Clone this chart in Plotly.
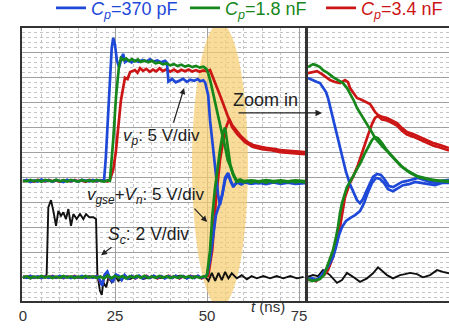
import plotly.graph_objects as go

# ---------------- data (t in ns, v in screen divisions; 0 = ground marker) ----------------
legend_names = ["<i>C<sub>p</sub></i>=370 pF", "<i>C<sub>p</sub></i>=1.8 nF", "<i>C<sub>p</sub></i>=3.4 nF"]

blue_vp_left = [(0,3.86),(1,3.90),(2,3.82),(3,3.88),(4,3.84),(5,3.92),(6,3.85),(7,3.89),(8,3.83),(9,3.90),(10,3.86),(11,3.82),
    (12,3.91),(13,3.85),(14,3.88),(15,3.83),(16,3.90),(17,3.86),(18,3.84),(19,3.90),(20,3.85),(21,3.88),(22.0,3.86),
    (22.5,4.8),(23.0,6.3),(23.6,7.9),(24.1,9.2),(24.5,9.6),(25.0,9.32),(25.5,8.7),(26.1,8.43),(26.6,8.7),(27.2,8.96),(27.7,8.63),
    (28.5,8.7),(29.5,8.62),(30.4,8.7),(31.5,8.64),(32.5,8.72),(33.5,8.66),(34.5,8.74),(35.5,8.65),(36.5,8.7),(37.5,8.62),(38.6,8.68),
    (39.1,8.6),(39.5,7.85),(40.5,7.95),(41.5,7.82),(42.7,7.9),(43.5,7.96),(44.5,7.84),(45.4,7.92),(46.5,7.88),(47.5,7.95),(48.1,7.86),
    (49.0,7.9),(49.5,7.8),(50.3,7.3),(50.8,6.3),(51.6,5.1),(52.4,3.9),(53.0,3.3),(53.5,2.9),(54.1,3.3),(54.9,4.0),(55.7,4.18),
    (56.5,3.85),(57.1,3.62),(58.2,3.84),(59.3,3.75),(60.3,3.83),(61.5,3.77),(62.5,3.82),(64,3.76),(65.5,3.83),(67,3.78),(68.5,3.84),
    (70,3.77),(71.5,3.82),(73,3.78),(74.5,3.83),(76.6,3.8)]

blue_vg_left = [(0,0.02),(1,-0.03),(2,0.04),(3,-0.02),(4,0.03),(5,-0.04),(6,0.02),(7,-0.03),(8,0.03),(9,-0.02),(10,0.04),(11,-0.03),
    (12,0.02),(13,-0.04),(14,0.03),(15,-0.02),(16,0.04),(17,-0.03),(18,0.02),(19,-0.02),(20,0.03),(20.8,-0.1),(21.5,-0.35),(22.2,0.1),
    (22.9,0.22),(23.6,-0.05),(24.4,-0.2),(25.2,0.1),(26,0.05),(26.8,-0.12),(27.6,0.08),(28.5,-0.06),(29.5,0.05),(30.5,-0.04),(31.5,0.06),
    (32.5,-0.05),(33.5,0.03),(34.5,-0.04),(35.5,0.05),(36.5,-0.03),(37.5,0.04),(38.5,-0.05),(39.5,0.03),(40.5,-0.04),(41.5,0.05),
    (42.5,-0.03),(43.5,0.04),(44.5,-0.05),(45.5,0.03),(46.5,-0.04),(47.5,0.05),(48.5,-0.03),(49.5,0.02),(50.0,0.1),(50.8,0.68),
    (51.6,1.69),(52.4,2.49),(53.3,2.89),(54.1,3.29),(54.9,3.9),(55.7,4.12),(56.5,3.8),(57.1,3.66),(58.2,3.8),(59.3,3.72),(60.3,3.8),
    (62,3.74),(64,3.79),(66,3.73),(68,3.8),(70,3.74),(72,3.79),(74,3.74),(76.6,3.77)]

green_vp_left = [(0,3.88),(1,3.84),(2,3.9),(3,3.85),(4,3.89),(5,3.83),(6,3.9),(7,3.86),(8,3.84),(9,3.91),(10,3.85),(11,3.89),
    (12,3.84),(13,3.9),(14,3.86),(15,3.83),(16,3.9),(17,3.85),(18,3.89),(19,3.84),(20,3.9),(21,3.86),(22,3.83),(23,3.89),(23.6,3.86),
    (24.5,5.5),(25.3,7.3),(26.1,8.5),(26.6,8.8),(27.3,8.71),(28.0,8.78),(28.8,8.68),(29.6,8.75),(30.4,8.66),(31.2,8.74),(32,8.64),
    (33,8.7),(34,8.62),(35,8.68),(36,8.58),(37,8.62),(38,8.54),(39,8.58),(40,8.5),(41,8.55),(42,8.47),(43,8.53),(44,8.45),(45,8.5),
    (46,8.43),(47,8.48),(48,8.41),(49,8.45),(49.8,8.36),(50.3,8.19),(51,7.8),(51.6,7.39),(52.5,6.7),(53.5,6.02),(54.3,5.6),(54.9,5.22),
    (55.6,4.7),(56.3,4.45),(57.1,4.1),(58,3.82),(59,3.86),(60,3.8),(61,3.85),(62,3.79),(63,3.86),(64,3.8),(65,3.85),(66,3.79),(67,3.86),
    (68,3.8),(69,3.84),(70,3.79),(71,3.85),(72,3.8),(73,3.86),(74,3.8),(75,3.84),(76.6,3.8)]

green_vg_left = [(0,-0.02),(1,0.03),(2,-0.04),(3,0.02),(4,-0.03),(5,0.04),(6,-0.02),(7,0.03),(8,-0.04),(9,0.02),(10,-0.03),(11,0.04),
    (12,-0.02),(13,0.03),(14,-0.04),(15,0.02),(16,-0.03),(17,0.04),(18,-0.02),(19,0.03),(20,-0.04),(21,0.02),(22,-0.05),(23,0.06),
    (24,-0.04),(25,0.05),(26,-0.03),(27,0.04),(28,-0.05),(29,0.03),(30,-0.02),(31,0.04),(32,-0.03),(33,0.05),(34,-0.04),(35,0.02),
    (36,-0.03),(37,0.04),(38,-0.02),(39,0.03),(40,-0.04),(41,0.02),(42,-0.03),(43,0.04),(44,-0.02),(45,0.03),(46,-0.04),(47,0.02),
    (48,-0.03),(49,0.03),(49.6,0.0),(50.0,0.1),(50.8,1.08),(51.4,2.41),(52.1,3.5),(52.7,4.3),(53.5,5.1),(54.3,5.8),(54.9,6.0),
    (55.6,5.25),(56.3,4.52),(57.1,4.14),(58,3.88),(59,3.92),(60,3.85),(62,3.88),(64,3.84),(66,3.89),(68,3.85),(70,3.88),(72,3.84),
    (74,3.88),(76.6,3.85)]

red_vp_left = [(0,3.84),(1,3.89),(2,3.86),(3,3.83),(4,3.9),(5,3.86),(6,3.84),(7,3.9),(8,3.85),(9,3.88),(10,3.83),(11,3.89),
    (12,3.86),(13,3.84),(14,3.9),(15,3.85),(16,3.88),(17,3.83),(18,3.9),(19,3.86),(20,3.84),(21,3.89),(22,3.86),(23,3.84),(23.6,3.9),
    (24.5,4.3),(25.2,5.0),(25.8,5.9),(26.6,7.1),(27.7,8.0),(28.4,7.95),(29.1,8.23),(30.4,8.31),(31.1,8.2),(31.8,8.39),(32.6,8.28),
    (33.5,8.36),(34.4,8.24),(35.3,8.33),(36.2,8.26),(37.1,8.38),(38,8.27),(39,8.34),(40,8.25),(41,8.33),(42,8.24),(43,8.32),(44,8.26),
    (45,8.33),(46,8.25),(47,8.31),(48,8.24),(49,8.3),(50,8.26),(50.8,8.31),(51.9,7.9),(52.7,7.63),(53.5,7.3),(54.3,6.99),(55.0,6.7),
    (55.7,6.43),(56.8,6.1),(58.2,5.82),(59.2,5.65),(60.3,5.5),(61.4,5.38),(62.5,5.3),(63.7,5.25),(64.9,5.22),(66,5.19),(67.1,5.18),
    (68.5,5.14),(69.8,5.1),(71.2,5.08),(72.6,5.06),(74.5,5.04),(76.6,5.02)]

red_vg_left = [(0,0.03),(1,-0.02),(2,0.04),(3,-0.03),(4,0.02),(5,-0.04),(6,0.03),(7,-0.02),(8,0.04),(9,-0.03),(10,0.02),(11,-0.04),
    (12,0.03),(13,-0.02),(14,0.04),(15,-0.03),(16,0.02),(17,-0.04),(18,0.03),(19,-0.02),(20,0.04),(20.8,-0.12),(21.5,-0.3),(22.2,0.08),
    (22.9,0.15),(23.6,-0.1),(24.4,-0.15),(25.2,0.08),(26,0.02),(26.8,-0.08),(27.6,0.05),(28.5,-0.04),(29.5,0.04),(30.5,-0.05),
    (31.5,0.03),(32.5,-0.04),(33.5,0.05),(34.5,-0.03),(35.5,0.04),(36.5,-0.05),(37.5,0.03),(38.5,-0.04),(39.5,0.05),(40.5,-0.03),
    (41.5,0.04),(42.5,-0.05),(43.5,0.03),(44.5,-0.04),(45.5,0.05),(46.5,-0.03),(47.5,0.04),(48.5,-0.05),(49.5,0.03),(50.3,0.05),
    (51.4,1.08),(52.4,3.09),(53.5,4.7),(54.9,5.9),(56.0,6.35),(56.8,6.02),(58.2,5.74),(60.3,5.42),(62.5,5.22),(64.9,5.14),(67.1,5.1),
    (69.8,5.02),(72.6,4.98),(76.6,4.94)]

black_sc_left = [(0,-0.04),(1,0.03),(2,-0.06),(3,0.02),(4,-0.03),(5,0.04),(6,-0.02),(6.43,0.12),(6.88,2.80),(7.61,3.09),(8.24,2.66),
    (8.97,2.06),(9.6,2.66),(10.33,2.46),(10.96,2.60),(11.68,2.33),(12.32,2.73),(13.04,2.06),(13.68,2.53),(14.58,2.33),(15.49,2.53),
    (16.4,2.33),(17.12,2.53),(18.03,2.40),(19.1,2.40),(19.84,2.33),(20.2,0.12),(20.9,-0.55),(21.4,-0.71),(21.8,-0.21),(22.6,-0.41),
    (23.2,-0.01),(24.1,-0.21),(25.0,0.05),(25.9,-0.15),(27.3,-0.01),(29.1,-0.08),(30.9,0.05),(32.7,-0.08),(35.4,0.05),(37,-0.04),
    (39.0,-0.01),(40.8,0.04),(42.7,0.05),(44.5,-0.04),(46.3,0.03),(48.1,-0.01),(49.5,0.01),(50.4,-0.15),(51.3,0.17),(52.2,-0.15),
    (53.1,0.17),(54.0,-0.12),(54.9,0.21),(55.8,-0.05),(56.7,0.15),(58.1,-0.05),(59.4,0.08),(60.8,-0.09),(62.1,0.04),(63.5,-0.05),
    (65.3,0.04),(67.1,-0.05),(68.9,0.04),(70.7,-0.05),(72.6,0.04),(74.4,-0.05),(76.2,0.01)]

# zoomed-in panel (t in ns)
blue_vp_zoom = [(48.3,7.99),(48.7,7.91),(49.2,7.83),(49.5,7.79),(49.8,7.63),(50.1,7.43),(50.3,7.19),(50.6,6.71),(50.9,6.22),
    (51.2,5.70),(51.5,5.18),(51.8,4.70),(52.1,4.22),(52.5,3.73),(52.9,3.33),(53.2,3.09),(53.5,2.97),(53.8,3.13),(54.1,3.41),
    (54.5,3.73),(54.8,4.02),(55.2,4.14),(55.6,4.10),(56.0,3.90),(56.4,3.65),(56.8,3.61),(57.2,3.69),(57.7,3.82),(58.2,3.86),
    (58.8,3.94),(59.3,3.98),(59.9,3.90),(60.5,3.82),(61.1,3.78),(61.7,3.86),(62.4,3.90)]
blue_vg_zoom = [(48.3,-0.08),(48.7,-0.04),(49.1,-0.12),(49.5,0.0),(49.8,0.16),(50.2,0.36),(50.5,0.56),(50.8,0.80),(51.1,1.20),
    (51.4,1.69),(51.7,2.01),(52.1,2.25),(52.5,2.37),(53.0,2.49),(53.5,2.65),(53.9,2.97),(54.3,3.41),(54.7,3.78),(55.1,3.98),
    (55.5,3.94),(55.9,3.78),(56.3,3.53),(56.8,3.45),(57.3,3.57),(57.8,3.69),(58.4,3.73),(59.0,3.82),(59.6,3.78),(60.3,3.73),
    (61.0,3.69),(61.7,3.78),(62.4,3.78)]
green_vp_zoom = [(48.3,8.43),(48.5,8.47),(48.8,8.55),(49.1,8.51),(49.5,8.43),(49.8,8.31),(50.3,8.19),(50.8,8.03),(51.3,7.91),
    (51.8,7.79),(52.2,7.59),(52.5,7.39),(52.9,7.07),(53.2,6.79),(53.5,6.59),(53.8,6.43),(54.2,6.14),(54.5,5.98),(54.8,5.74),
    (55.0,5.58),(55.4,5.38),(55.8,5.22),(56.3,5.02),(56.8,4.82),(57.5,4.50),(58.3,4.26),(59.2,4.06),(60.0,3.98),(60.8,3.90),
    (61.6,3.86),(62.4,3.82)]
green_vg_zoom = [(48.3,-0.08),(48.7,-0.16),(49.1,-0.12),(49.5,-0.08),(49.9,0.08),(50.2,0.40),(50.5,0.68),(50.8,1.08),(51.1,1.61),
    (51.3,2.01),(51.5,2.57),(51.7,2.97),(52.0,3.37),(52.2,3.61),(52.6,3.90),(53.2,4.30),(53.6,4.62),(54.0,4.98),(54.3,5.22),
    (54.7,5.50),(55.0,5.62),(55.3,5.58),(55.7,5.38),(56.1,5.14),(56.6,4.90),(57.1,4.70),(57.7,4.42),(58.5,4.18),(59.3,4.02),
    (60.2,3.94),(61.2,3.86),(62.4,3.86)]
red_vp_zoom = [(48.3,8.19),(48.7,8.23),(49.2,8.27),(49.7,8.15),(50.5,7.91),(51.0,7.83),(51.5,7.79),(52.0,7.91),(52.3,7.83),
    (52.5,7.59),(52.8,7.43),(53.2,7.19),(53.7,7.11),(54.2,7.03),(54.5,6.95),(54.7,6.83),(55.0,6.63),(55.3,6.51),(55.7,6.43),
    (56.2,6.39),(56.7,6.27),(57.2,6.18),(57.7,5.98),(58.2,5.82),(58.8,5.74),(59.5,5.62),(60.2,5.50),(60.8,5.38),(61.5,5.30),
    (62.4,5.18)]
red_vg_zoom = [(48.3,-0.12),(48.7,-0.08),(49.1,-0.16),(49.5,-0.04),(50.0,0.12),(50.3,0.28),(50.8,0.8),(51.2,1.49),(51.5,2.01),
    (52.0,3.21),(52.5,3.78),(52.8,4.02),(53.3,4.5),(53.7,4.98),(54.0,5.3),(54.3,5.7),(54.7,6.14),(55.0,6.39),(55.3,6.47),
    (55.7,6.33),(56.2,6.29),(56.7,6.17),(57.2,6.08),(57.7,5.88),(58.2,5.72),(58.8,5.64),(59.5,5.52),(60.2,5.40),(60.8,5.28),
    (61.5,5.20),(62.4,5.08)]
black_sc_zoom = [(48.3,0.01),(48.8,0.08),(49.3,0.04),(49.8,0.28),(50.5,0.08),(51.2,-0.23),(51.7,-0.12),(52.2,0.17),(52.8,0.01),
    (53.5,-0.19),(54.2,-0.05),(54.8,0.15),(55.3,0.39),(55.8,0.21),(56.2,0.08),(56.8,-0.05),(57.5,0.08),(58.0,0.12),(58.5,0.17),
    (59.2,0.12),(59.8,-0.01),(60.5,0.08),(61.2,0.28),(61.8,0.21),(62.4,0.15)]

ground_marker = [(-2.9, 0.0)]
x_ticks = [0, 25, 50, 75]

BLUE = '#1e48d8'
GREEN = '#16871a'
RED = '#cc1616'
BLACK = '#111111'

fig = go.Figure()

def add(pairs, color, xa, ya, width=2.7, name=None, show=False, legend='legend'):
    fig.add_trace(go.Scatter(
        x=[p[0] for p in pairs], y=[p[1] for p in pairs], mode='lines',
        line=dict(color=color, width=width), xaxis=xa, yaxis=ya,
        name=name if name else '', showlegend=show, legend=legend,
        hoverinfo='skip'))

# left panel
add(black_sc_left, BLACK, 'x', 'y', width=1.9)
add(red_vg_left, RED, 'x', 'y')
add(red_vp_left, RED, 'x', 'y', name='<span style="color:%s">%s</span>' % (RED, legend_names[2]), show=True, legend='legend3')
add(blue_vg_left, BLUE, 'x', 'y')
add(blue_vp_left, BLUE, 'x', 'y', name='<span style="color:%s">%s</span>' % (BLUE, legend_names[0]), show=True, legend='legend')
add(green_vg_left, GREEN, 'x', 'y')
add(green_vp_left, GREEN, 'x', 'y', name='<span style="color:%s">%s</span>' % (GREEN, legend_names[1]), show=True, legend='legend2')
# zoom panel
add(black_sc_zoom, BLACK, 'x2', 'y2', width=1.9)
add(red_vp_zoom, RED, 'x2', 'y2')
add(red_vg_zoom, RED, 'x2', 'y2')
add(blue_vp_zoom, BLUE, 'x2', 'y2')
add(blue_vg_zoom, BLUE, 'x2', 'y2')
add(green_vp_zoom, GREEN, 'x2', 'y2')
add(green_vg_zoom, GREEN, 'x2', 'y2')

fig.add_trace(go.Scatter(x=[p[0] for p in ground_marker], y=[p[1] for p in ground_marker], mode='markers',
                         marker=dict(symbol='triangle-right', size=15, color='black'), cliponaxis=False,
                         showlegend=False, hoverinfo='skip', xaxis='x', yaxis='y'))

YR = [-0.96, 10.0]
GRID = '#a0a0a0'
MINOR = dict(showgrid=True, gridcolor='#c4c4c4', griddash='dot', gridwidth=1)

def leg(x):
    return dict(orientation='h', x=x, y=1.005, xanchor='left', yanchor='bottom',
                font=dict(size=18), bgcolor='rgba(0,0,0,0)', itemwidth=30)

fig.update_layout(
    width=449, height=328,
    margin=dict(l=22, r=0, t=28, b=27, autoexpand=False),
    paper_bgcolor='white', plot_bgcolor='white',
    font=dict(family='Liberation Sans, Arial, sans-serif', size=15, color='#222'),
    legend=leg(0.0679), legend2=leg(0.3817), legend3=leg(0.7003),
    xaxis=dict(domain=[0, 0.6628], range=[-0.27, 76.6], tickvals=x_ticks, ticks='',
               showgrid=True, gridcolor=GRID, zeroline=False,
               minor=dict(dtick=5, tick0=0, **MINOR),
               showline=True, linecolor='#333', linewidth=1.5, mirror=True,
               tickfont=dict(size=15, color='#333'), anchor='y'),
    yaxis=dict(domain=[0, 1], range=YR, dtick=1, tick0=0, showticklabels=False, ticks='',
               showgrid=True, gridcolor=GRID, zeroline=False,
               minor=dict(dtick=0.2, tick0=0, **MINOR),
               showline=True, linecolor='#333', linewidth=1.5, mirror=True, anchor='x'),
    xaxis2=dict(domain=[0.6698, 1.0], range=[48.3, 62.4], showgrid=False, showticklabels=False, ticks='',
                zeroline=False, showline=True, linecolor='#333', linewidth=1.5, mirror=True, anchor='y2'),
    yaxis2=dict(domain=[0, 1], range=YR, dtick=1, tick0=0, showticklabels=False, ticks='',
                showgrid=True, gridcolor=GRID, zeroline=False,
                minor=dict(dtick=0.2, tick0=0, **MINOR),
                showline=True, linecolor='#333', linewidth=1.5, mirror=False, anchor='x2'),
)

# highlighted switching region
fig.add_shape(type='circle', xref='x', yref='y', x0=45.9, x1=61.1, y0=-1.2, y1=10.2,
              fillcolor='#f6cd6e', opacity=0.7, line=dict(width=0), layer='between')

AC = '#222'
ann = [
    dict(x=37.5, y=5.62, xref='x', yref='y', text='<i>v<sub>p</sub></i>: 5 V/div', showarrow=False, font=dict(size=17, color=AC)),
    dict(x=33.2, y=3.25, xref='x', yref='y', text='<i>v<sub>gse</sub></i>+<i>V<sub>n</sub></i>: 5 V/div', showarrow=False, font=dict(size=17, color=AC)),
    dict(x=34.0, y=1.65, xref='x', yref='y', text='<i>S<sub>c</sub></i>: 2 V/div', showarrow=False, font=dict(size=17.5, color=AC)),
    dict(x=0.571, y=7.11, xref='paper', yref='y', text='Zoom in', showarrow=False, font=dict(size=18, color=AC)),
    dict(x=0.576, y=-0.06, xref='paper', yref='paper', text='<i>t</i> (ns)', showarrow=False, font=dict(size=15, color='#333')),
    # arrows
    dict(x=43.75, y=7.59, xref='x', yref='y', text='', showarrow=True, ax=-11, ay=36,
         arrowhead=2, arrowsize=1, arrowwidth=1.2, arrowcolor=AC),
    dict(x=50.0, y=2.21, xref='x', yref='y', text='', showarrow=True, ax=-14, ay=-15,
         arrowhead=2, arrowsize=1, arrowwidth=1.2, arrowcolor=AC),
    dict(x=21.2, y=0.88, xref='x', yref='y', text='', showarrow=True, ax=12, ay=-9,
         arrowhead=2, arrowsize=1, arrowwidth=1.2, arrowcolor=AC),
    dict(x=0.7026, y=6.59, xref='paper', yref='y', text='', showarrow=True, ax=-85, ay=0,
         arrowhead=2, arrowsize=1, arrowwidth=1.3, arrowcolor=AC),
]
fig.update_layout(annotations=ann)

fig.write_html("out.html", config={'displayModeBar': False},
               post_script="document.body.style.margin='0';document.body.style.overflow='hidden';")
